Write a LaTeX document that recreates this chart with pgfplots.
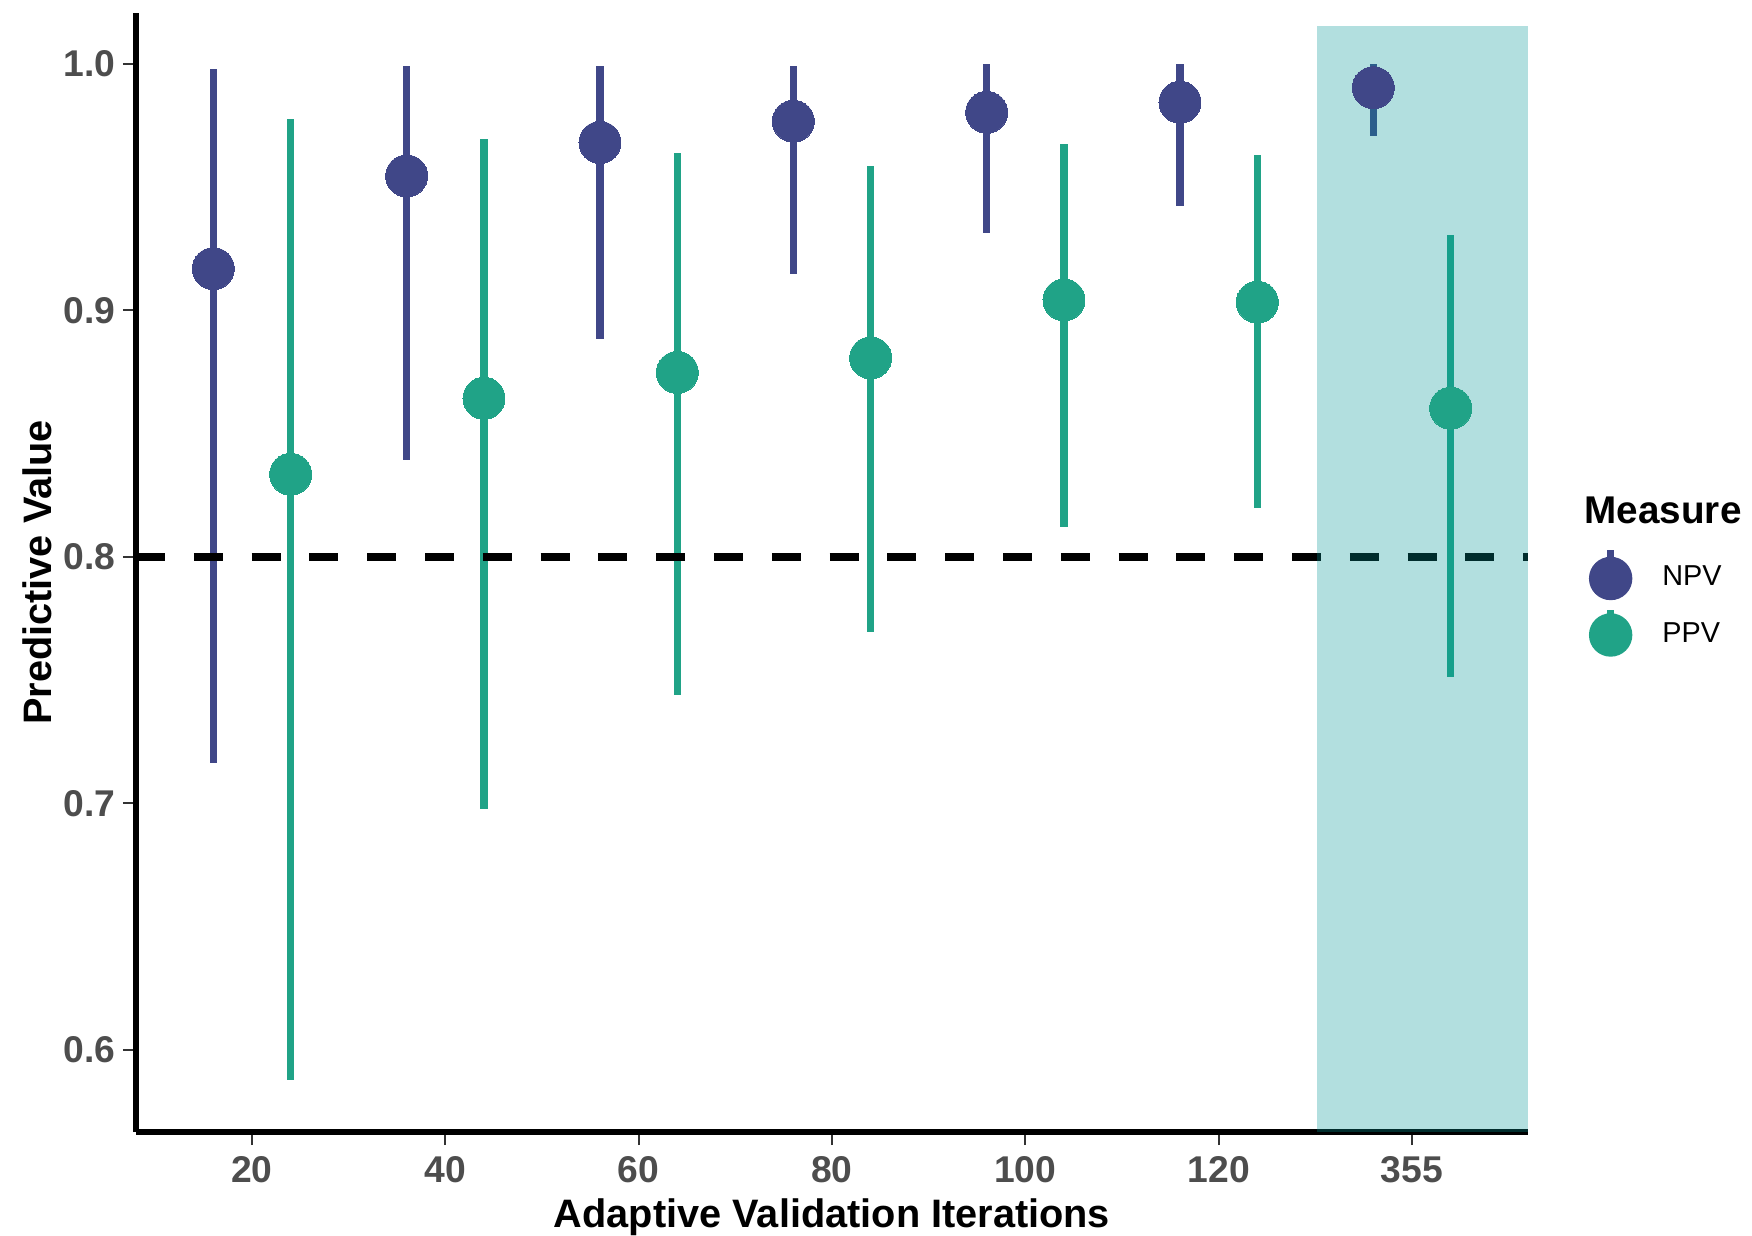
\documentclass[border=0pt]{standalone}
\usepackage{pgfplots}
\pgfplotsset{compat=1.18}
\usepackage{pgfplotstable}
\usepackage{fontspec}
\setmainfont{Liberation Sans}
\definecolor{npv}{HTML}{404788}
\definecolor{ppv}{HTML}{20A387}
\definecolor{shade}{RGB}{0,150,150}
\definecolor{ticklab}{HTML}{4D4D4D}
\definecolor{tickcol}{HTML}{333333}

\pgfplotstableread{
x y lo hi
0.8 0.9169 0.7162 0.9980
1.8 0.9545 0.8394 0.9990
2.8 0.9681 0.8884 0.9990
3.8 0.9767 0.9146 0.9990
4.8 0.9803 0.9314 1.0000
5.8 0.9844 0.9423 1.0000
6.8 0.9903 0.9708 1.0000
}\npvdata

\pgfplotstableread{
x y lo hi
1.2 0.8335 0.5876 0.9776
2.2 0.8643 0.6976 0.9695
3.2 0.8748 0.7438 0.9640
4.2 0.8807 0.7696 0.9586
5.2 0.9042 0.8122 0.9676
6.2 0.9033 0.8199 0.9631
7.2 0.8603 0.7513 0.9305
}\ppvdata

\begin{document}
\begin{tikzpicture}
\useasboundingbox (0,0) rectangle (175.2mm,123.5mm);
\begin{axis}[
  at={(13.6mm,10.3mm)}, anchor=south west,
  scale only axis, width=139.2mm, height=111.9mm,
  xmin=0.4, xmax=7.6, ymin=0.5667, ymax=1.0206,
  axis x line*=bottom, axis y line*=left,
  axis line style={line width=0.65mm, black, -},
  xtick={1,2,3,4,5,6,7}, xticklabels={20,40,60,80,100,120,355},
  ytick={0.6,0.7,0.8,0.9,1.0}, yticklabels={0.6,0.7,0.8,0.9,1.0},
  minor tick num=0,
  tick align=outside, major tick length=1.3mm,
  tick style={tickcol, line width=0.2mm},
  ticklabel style={font=\fontsize{10.6}{12}\selectfont\bfseries, text=ticklab},
  xticklabel style={anchor=base, yshift=-3.7mm},
  yticklabel style={anchor=east, inner sep=0pt, xshift=-0.7mm},
  xlabel={Adaptive Validation Iterations},
  ylabel={Predictive Value},
  xlabel style={font=\fontsize{11.3}{13}\selectfont\bfseries, at={(axis description cs:0.5,-0.0849)}, anchor=base},
  ylabel style={font=\fontsize{11.3}{13}\selectfont\bfseries, at={(axis description cs:-0.0711,0.5)}, anchor=center},
  legend style={at={(axis description cs:1.0438,0.5228)}, anchor=north west, draw=none, fill=none,
    inner sep=0pt, outer sep=0pt, row sep=0pt, column sep=3mm,
    font=\fontsize{8.2}{10}\selectfont, text=black, nodes={inner sep=0pt}},
  legend cell align=left,
  clip=false,
]
\addplot[forget plot, only marks, mark=*, mark size=2.1mm, mark options={fill=npv, draw=npv, line width=0pt},
  error bars/.cd, y dir=both, y explicit, error bar style={line width=0.72mm, npv}, error mark=none]
  table[x=x, y=y, y error plus expr=\thisrow{hi}-\thisrow{y}, y error minus expr=\thisrow{y}-\thisrow{lo}] {\npvdata};
\addplot[forget plot, only marks, mark=*, mark size=2.1mm, mark options={fill=ppv, draw=ppv, line width=0pt},
  error bars/.cd, y dir=both, y explicit, error bar style={line width=0.72mm, ppv}, error mark=none]
  table[x=x, y=y, y error plus expr=\thisrow{hi}-\thisrow{y}, y error minus expr=\thisrow{y}-\thisrow{lo}] {\ppvdata};
\addplot[forget plot, black, line width=0.75mm, dash pattern=on 2.89mm off 2.89mm] coordinates {(0.4,0.8) (7.6,0.8)};
\addplot[forget plot, draw=none, fill=shade, fill opacity=0.3] coordinates {(6.51,0.5667) (6.51,1.0153) (7.6,1.0153) (7.6,0.5667)};

\addlegendimage{legend image code/.code={
  \path[draw=none, fill=none] (0mm,-2.8mm) rectangle (4.2mm,2.8mm);
  \draw[npv, line width=0.7mm] (2.1mm,0mm) -- (2.1mm,2.8mm);
  \fill[npv] (2.1mm,0mm) circle[radius=2.1mm];
}}
\addlegendentry{NPV}
\addlegendimage{legend image code/.code={
  \path[draw=none, fill=none] (0mm,-2.8mm) rectangle (4.2mm,2.8mm);
  \draw[ppv, line width=0.7mm] (2.1mm,0mm) -- (2.1mm,2.5mm);
  \fill[ppv] (2.1mm,0mm) circle[radius=2.1mm];
}}
\addlegendentry{PPV}

\node[anchor=base west, inner sep=0pt, font=\fontsize{11}{13}\selectfont\bfseries] at (axis description cs:1.0402,0.5442) {Measure};
\end{axis}
\end{tikzpicture}
\end{document}
